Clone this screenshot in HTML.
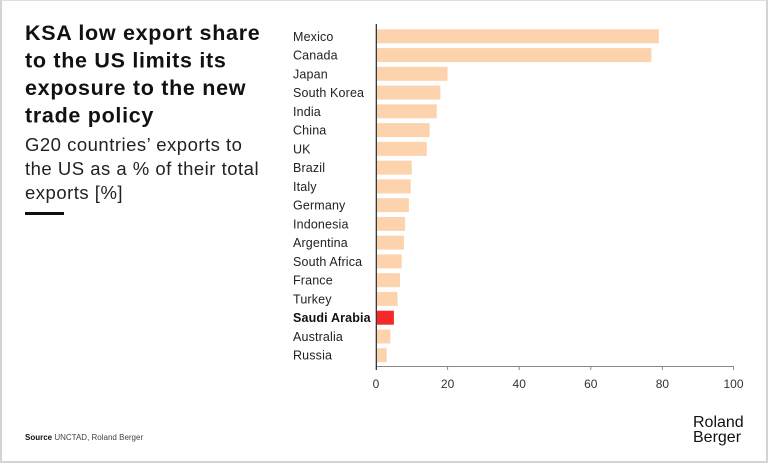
<!DOCTYPE html>
<html><head><meta charset="utf-8"><style>
html,body{margin:0;padding:0;background:#fff}
body{width:768px;height:464px;position:relative;overflow:hidden;font-family:"Liberation Sans",sans-serif}
.frame{position:absolute;left:0;top:0;width:764px;height:460px;border:2px solid #d4d4d4;border-top:1px solid #e0e0e0}
</style></head><body>
<div class="frame"></div>
<svg width="768" height="464" style="position:absolute;left:0;top:0" font-family="Liberation Sans, sans-serif">
<g font-size="21.5" font-weight="bold" fill="#111" letter-spacing="0.7">
<text x="25" y="40">KSA low export share</text>
<text x="25" y="67.5">to the US limits its</text>
<text x="25" y="95">exposure to the new</text>
<text x="25" y="122.5">trade policy</text>
</g>
<g font-size="18.5" fill="#222" letter-spacing="0.5">
<text x="25" y="151">G20 countries’ exports to</text>
<text x="25" y="175">the US as a % of their total</text>
<text x="25" y="199">exports [%]</text>
</g>
<rect x="25" y="212" width="39" height="3" fill="#111"/>
<text x="25" y="440" font-size="8" fill="#444"><tspan font-weight="bold" fill="#111">Source</tspan> UNCTAD, Roland Berger</text>
<text x="693" y="427" font-size="16" fill="#111" font-weight="500">Roland</text>
<text x="693" y="442" font-size="16" fill="#111" font-weight="500">Berger</text>
<g id="bars" font-size="12.5" fill="#222" letter-spacing="0.15"></g>
<line x1="376" y1="366.5" x2="734" y2="366.5" stroke="#888" stroke-width="1"/>
<line x1="376.3" y1="24" x2="376.3" y2="370" stroke="#222" stroke-width="1.2"/>
<g stroke="#888"><line x1="447.6" y1="366" x2="447.6" y2="370"/><line x1="519.2" y1="366" x2="519.2" y2="370"/><line x1="590.8" y1="366" x2="590.8" y2="370"/><line x1="662.4" y1="366" x2="662.4" y2="370"/><line x1="733.5" y1="366" x2="733.5" y2="370"/></g>
<g font-size="12" fill="#333" text-anchor="middle">
<text x="376" y="388">0</text><text x="447.6" y="388">20</text><text x="519.2" y="388">40</text><text x="590.8" y="388">60</text><text x="662.4" y="388">80</text><text x="733.5" y="388">100</text>
</g>
</svg>
<script>
var d=[["Mexico",79.1],["Canada",77],["Japan",20],["South Korea",18],["India",17],["China",15],["UK",14.2],["Brazil",10],["Italy",9.7],["Germany",9.2],["Indonesia",8.1],["Argentina",7.8],["South Africa",7.2],["France",6.7],["Turkey",6],["Saudi Arabia",5],["Australia",4],["Russia",3]];
var g=document.getElementById("bars"),s="";
d.forEach(function(r,i){var c=36.3+18.76*i,sa=r[0]=="Saudi Arabia";
s+='<rect x="377" y="'+(c-7)+'" width="'+(r[1]*3.576-1)+'" height="14" fill="'+(sa?"#F42A2A":"#FDD3AE")+'"/>';
s+='<text x="293" y="'+(c+4.5)+'"'+(sa?' font-weight="bold" fill="#111"':'')+'>'+r[0]+'</text>';});
g.innerHTML=s;
</script>
</body></html>
